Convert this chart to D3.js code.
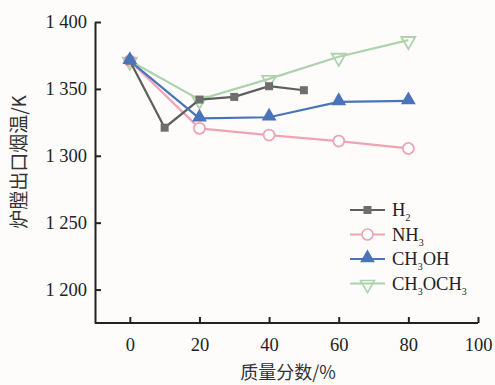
<!DOCTYPE html>
<html>
<head>
<meta charset="utf-8">
<script src="https://cdn.jsdelivr.net/npm/d3@7"></script>
<style>
  body { margin: 0; background: #fdfcfb; }
  svg { display: block; }
</style>
</head>
<body>
<svg id="chart" width="495" height="385"></svg>
<script>
// data
const h2X = [0, 10, 20, 30, 40, 50];
const h2Y = [1371, 1321, 1342, 1344, 1352, 1349];
const nh3X = [0, 20, 40, 60, 80];
const nh3Y = [1371, 1320.5, 1315.5, 1311, 1305.5];
const ch3ohX = [0, 20, 40, 60, 80];
const ch3ohY = [1371, 1328, 1328.8, 1340.3, 1341];
const dmeX = [0, 20, 40, 60, 80];
const dmeY = [1371, 1342, 1357.5, 1374, 1386.5];
const xTicks = [0, 20, 40, 60, 80, 100];
const yTicks = [1200, 1250, 1300, 1350, 1400];

const series = [
  { name: 'CH3OCH3', label: [['CH', 0], ['3', 1], ['OCH', 0], ['3', 1]], xs: dmeX, ys: dmeY, line: '#aed2ad', marker: 'tri-down', fill: 'none', stroke: '#aed2ad', order: 3 },
  { name: 'NH3', label: [['NH', 0], ['3', 1]], xs: nh3X, ys: nh3Y, line: '#f0a3b2', marker: 'circle', fill: '#fff', stroke: '#f0a3b2', order: 1 },
  { name: 'H2', label: [['H', 0], ['2', 1]], xs: h2X, ys: h2Y, line: '#5e5e5e', marker: 'square', fill: '#6e6e6e', stroke: 'none', order: 0 },
  { name: 'CH3OH', label: [['CH', 0], ['3', 1], ['OH', 0]], xs: ch3ohX, ys: ch3ohY, line: '#4a74b9', marker: 'triangle', fill: '#4a74b9', stroke: 'none', order: 2 }
];

const serif = '"Liberation Serif", "Times New Roman", serif';
const cjk = '"Noto Sans CJK SC", sans-serif';

const svg = d3.select('#chart');
const margin = { left: 95, right: 17, top: 22, bottom: 62 };
const width = 495 - margin.left - margin.right;
const height = 385 - margin.top - margin.bottom;

const x = d3.scaleLinear().domain([-10, 100]).range([0, width]);
const y = d3.scaleLinear().domain([1175, 1400]).range([height, 0]);

const g = svg.append('g').attr('transform', `translate(${margin.left},${margin.top})`);

// axes, ticks point inward
const fmt = d => d3.format(',')(d).replace(',', ' ');
const xAxis = g.append('g')
  .attr('transform', `translate(0,${height})`)
  .call(d3.axisBottom(x).tickValues(xTicks).tickSize(-6).tickPadding(15).tickSizeOuter(0));
const yAxis = g.append('g')
  .call(d3.axisLeft(y).tickValues(yTicks).tickFormat(fmt).tickSize(-6).tickPadding(8).tickSizeOuter(0));
[xAxis, yAxis].forEach(a => {
  a.select('.domain').attr('stroke', '#222').attr('stroke-width', 2);
  a.selectAll('.tick line').attr('stroke', '#222').attr('stroke-width', 2);
  a.selectAll('.tick text')
    .attr('fill', '#222')
    .style('font-family', serif)
    .style('font-size', '18.5px');
});
xAxis.select('.domain').attr('d', `M0,0H${width}`);

const symbols = {
  square: d3.symbol(d3.symbolSquare, 64),
  circle: d3.symbol(d3.symbolCircle, 95),
  triangle: d3.symbol(d3.symbolTriangle, 95),
  'tri-down': d3.symbol(d3.symbolTriangle, 85)
};
function markerPath(s) {
  return symbols[s.marker]();
}
function markerShift(s) {
  return s.marker === 'triangle' ? -1 : s.marker === 'tri-down' ? 1 : 0;
}
function markerRotate(s) {
  return s.marker === 'tri-down' ? ' rotate(180)' : '';
}

const line = d3.line().x(d => x(d[0])).y(d => y(d[1]));

series.forEach(s => {
  const pts = s.xs.map((v, i) => [v, s.ys[i]]);
  const sg = g.append('g');
  sg.append('path')
    .attr('d', line(pts))
    .attr('fill', 'none')
    .attr('stroke', s.line)
    .attr('stroke-width', 2.2);
  sg.selectAll('path.m')
    .data(pts)
    .enter()
    .append('path')
    .attr('class', 'm')
    .attr('d', markerPath(s))
    .attr('transform', d => `translate(${x(d[0])},${y(d[1]) + markerShift(s)})${markerRotate(s)}`)
    .attr('fill', s.fill)
    .attr('stroke', s.stroke)
    .attr('stroke-width', 1.8);
});

// legend
const legendOrder = series.slice().sort((a, b) => a.order - b.order);
const leg = svg.append('g').attr('transform', 'translate(350,210)');
legendOrder.forEach((s, i) => {
  const row = leg.append('g').attr('transform', `translate(0,${i * 24.5})`);
  row.append('line').attr('x1', 0).attr('x2', 35).attr('y1', 0).attr('y2', 0)
    .attr('stroke', s.line).attr('stroke-width', 2);
  row.append('path')
    .attr('d', markerPath(s))
    .attr('transform', `translate(17.5,${markerShift(s)})${markerRotate(s)}`)
    .attr('fill', s.fill)
    .attr('stroke', s.stroke)
    .attr('stroke-width', 1.6);
  const t = row.append('text')
    .attr('x', 42).attr('y', 6)
    .attr('font-family', serif)
    .attr('font-size', 18.5)
    .attr('fill', '#222');
  s.label.forEach((p, j) => {
    const ts = t.append('tspan').text(p[0]);
    if (p[1]) ts.attr('font-size', 10).attr('dy', 5);
    else if (j > 0) ts.attr('dy', -5);
  });
});

// axis titles
svg.append('text')
  .attr('x', 288).attr('y', 379)
  .attr('text-anchor', 'middle')
  .attr('font-family', cjk)
  .attr('font-size', 18)
  .attr('fill', '#333')
  .text('质量分数/%');
svg.append('text')
  .attr('transform', 'translate(26,162) rotate(-90)')
  .attr('text-anchor', 'middle')
  .attr('font-family', cjk)
  .attr('font-size', 19)
  .attr('fill', '#333')
  .text('炉膛出口烟温/K');
</script>
</body>
</html>
